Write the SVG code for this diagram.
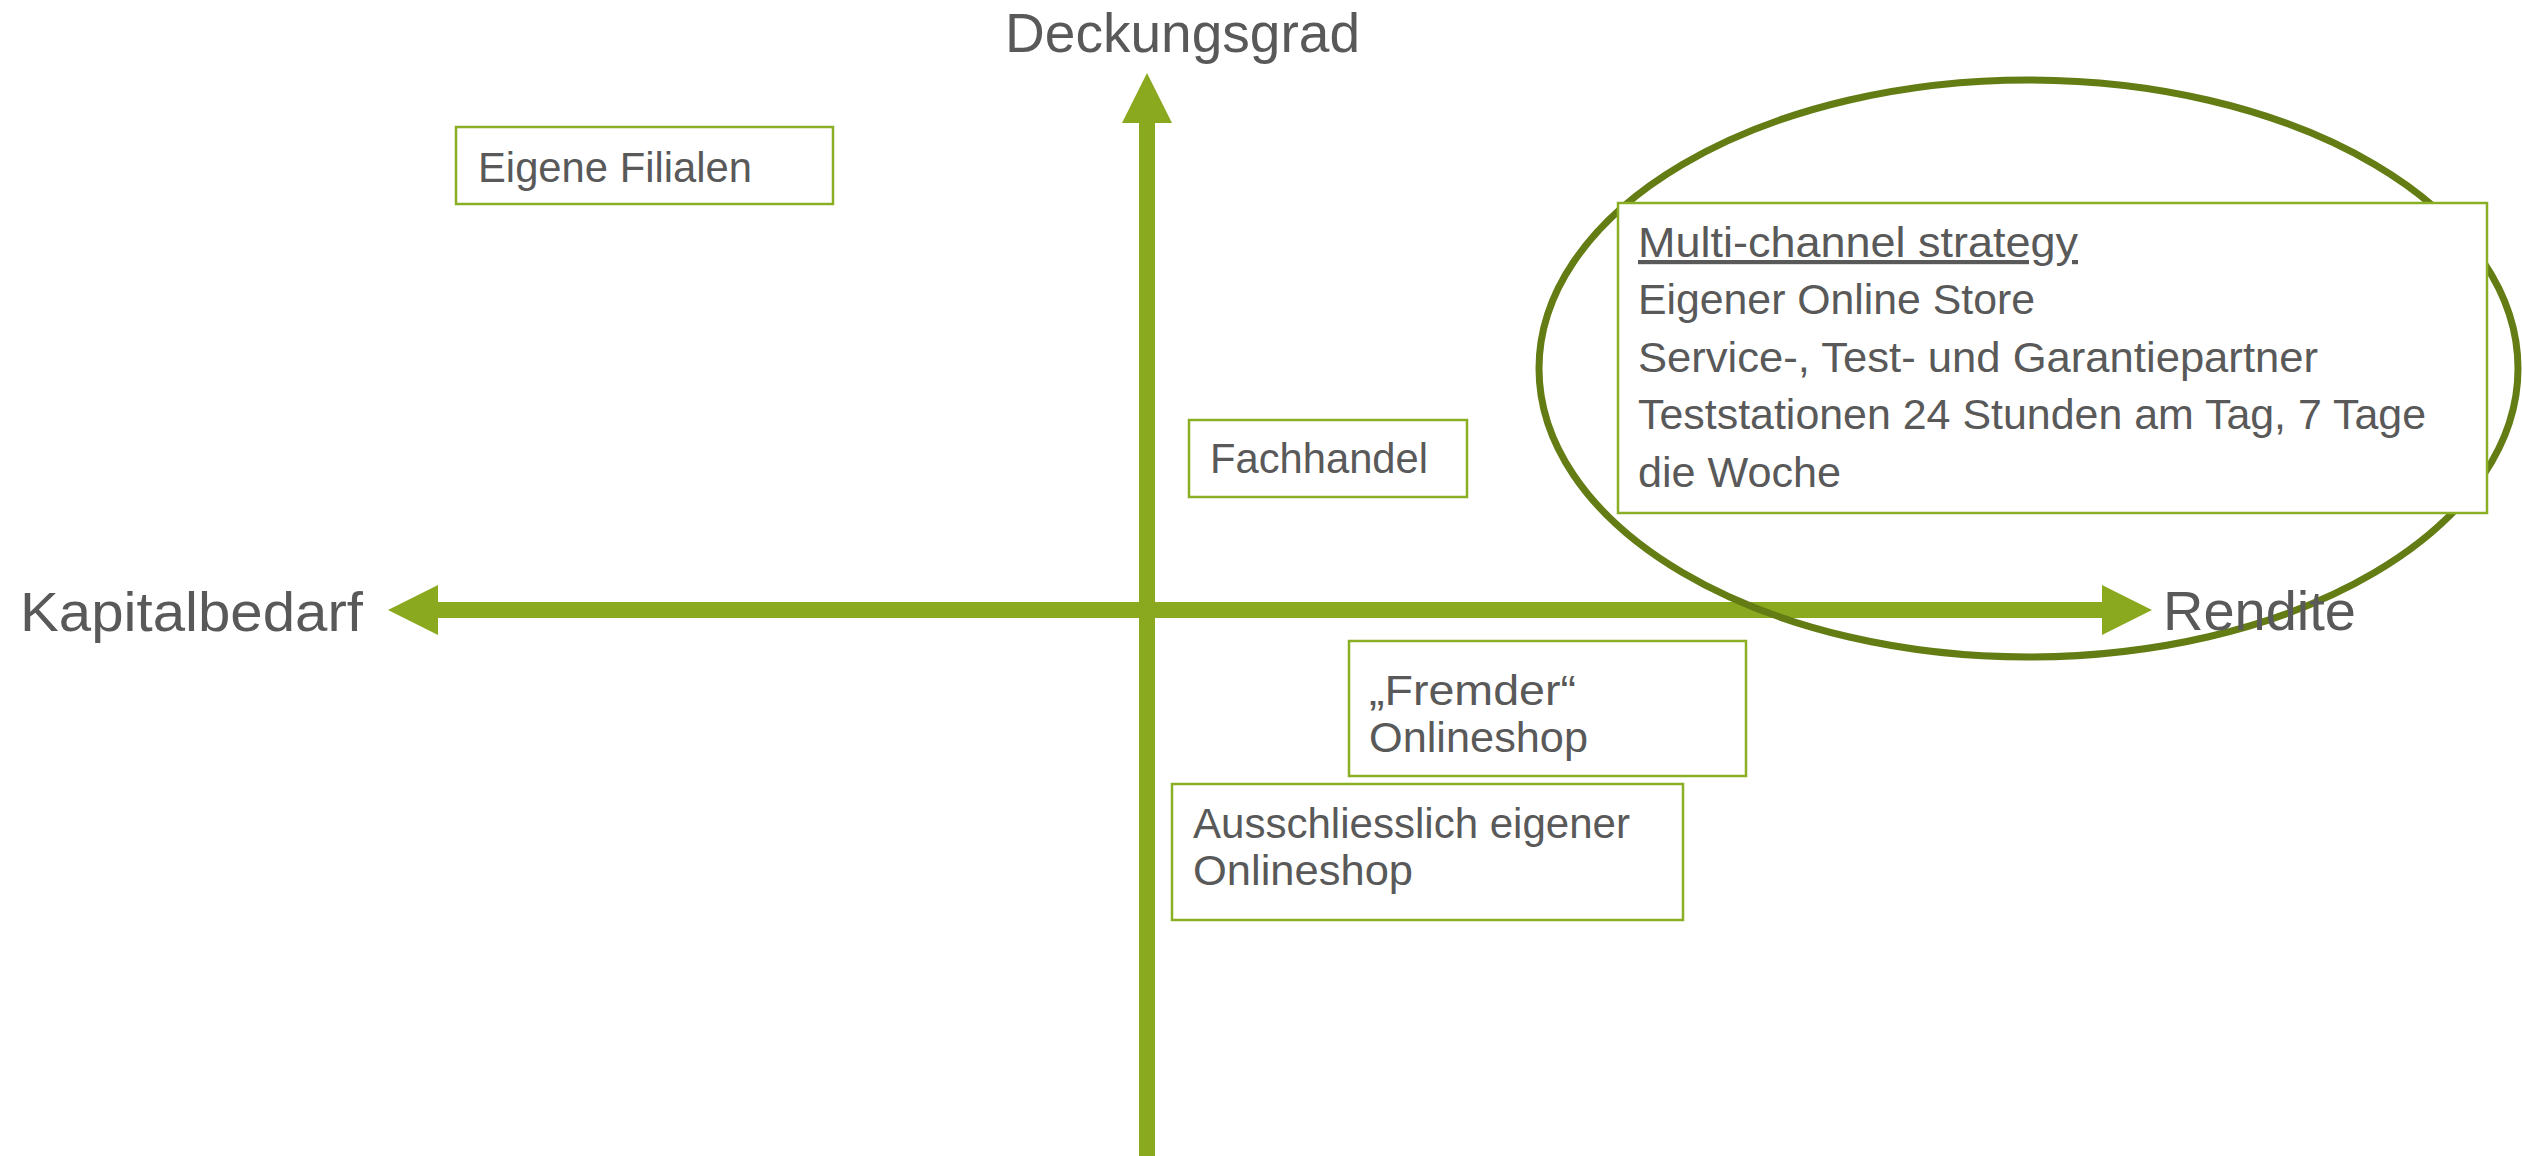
<svg xmlns="http://www.w3.org/2000/svg" width="2522" height="1156" viewBox="0 0 2522 1156">
<defs>
<style>
.box{fill:#ffffff;stroke:#8AAE24;stroke-width:2.5}
.t{font-family:"Liberation Sans",Arial,sans-serif;fill:#595959}
.axis{stroke:#8AA91F;stroke-width:16;fill:none}
</style>
<marker id="ah" viewBox="0 0 50 50" refX="0" refY="25" markerWidth="50" markerHeight="50" markerUnits="userSpaceOnUse" orient="auto-start-reverse">
<path d="M0,0 L50,25 L0,50 Z" fill="#8AA91F"/>
</marker>
</defs>
<rect width="2522" height="1156" fill="#ffffff"/>
<g id="axes">
<path class="axis" d="M438,610 L2102,610" marker-start="url(#ah)" marker-end="url(#ah)"/>
<path class="axis" d="M1147,1160 L1147,123" marker-end="url(#ah)"/>
</g>
<g id="highlight">
<ellipse cx="2028.5" cy="368.5" rx="489.5" ry="288.5" fill="none" stroke="#637C13" stroke-width="7"/>
</g>
<g id="node-filialen">
<rect class="box" x="456" y="127" width="377" height="77"/>
<text class="t" x="478" y="182" font-size="42" textLength="274" lengthAdjust="spacingAndGlyphs">Eigene Filialen</text>
</g>
<g id="node-fachhandel">
<rect class="box" x="1189" y="420" width="278" height="77"/>
<text class="t" x="1210" y="473" font-size="42" textLength="218" lengthAdjust="spacingAndGlyphs">Fachhandel</text>
</g>
<g id="node-multichannel">
<rect class="box" x="1618" y="203" width="869" height="310"/>
<text class="t" x="1638" y="257" font-size="42" textLength="440" lengthAdjust="spacingAndGlyphs" text-decoration="underline">Multi-channel strategy</text>
<text class="t" x="1638" y="314" font-size="42" textLength="397" lengthAdjust="spacingAndGlyphs">Eigener Online Store</text>
<text class="t" x="1638" y="372" font-size="42" textLength="680" lengthAdjust="spacingAndGlyphs">Service-, Test- und Garantiepartner</text>
<text class="t" x="1638" y="429" font-size="42" textLength="788" lengthAdjust="spacingAndGlyphs">Teststationen 24 Stunden am Tag, 7 Tage</text>
<text class="t" x="1638" y="487" font-size="42" textLength="203" lengthAdjust="spacingAndGlyphs">die Woche</text>
</g>
<g id="node-fremder">
<rect class="box" x="1349" y="641" width="397" height="135"/>
<text class="t" x="1369" y="705" font-size="42" textLength="207" lengthAdjust="spacingAndGlyphs">„Fremder“</text>
<text class="t" x="1369" y="752" font-size="42" textLength="219" lengthAdjust="spacingAndGlyphs">Onlineshop</text>
</g>
<g id="node-ausschliesslich">
<rect class="box" x="1172" y="784" width="511" height="136"/>
<text class="t" x="1193" y="838" font-size="42" textLength="437" lengthAdjust="spacingAndGlyphs">Ausschliesslich eigener</text>
<text class="t" x="1193" y="885" font-size="42" textLength="220" lengthAdjust="spacingAndGlyphs">Onlineshop</text>
</g>
<g id="labels">
<text class="t" x="1005" y="52" font-size="55" textLength="355" lengthAdjust="spacingAndGlyphs">Deckungsgrad</text>
<text class="t" x="20" y="631" font-size="56" textLength="343" lengthAdjust="spacingAndGlyphs">Kapitalbedarf</text>
<text class="t" x="2163" y="630" font-size="56" textLength="193" lengthAdjust="spacingAndGlyphs">Rendite</text>
</g>
</svg>
